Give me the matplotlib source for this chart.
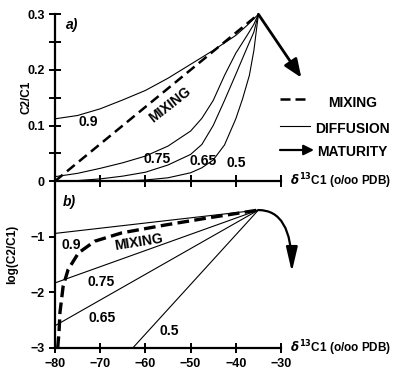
import matplotlib
matplotlib.use("Agg")
import matplotlib.pyplot as plt
from matplotlib.patches import FancyArrowPatch
import numpy as np

plt.rcParams["font.family"] = ["Liberation Sans", "DejaVu Sans"]
plt.rcParams["font.weight"] = "bold"

# --- data ---
# a) C2/C1 vs d13C1 (diffusion curves labelled by their factor)
x_09 = [-80, -75, -70, -65, -60, -55, -50, -45, -40, -37.5, -35]
diff_09 = [0.112, 0.118, 0.130, 0.146, 0.163, 0.185, 0.210, 0.235, 0.262, 0.280, 0.300]
x_075 = [-80, -75, -70, -65, -60, -55, -50, -47.5, -45, -42.5, -40, -37.5, -36, -35]
diff_075 = [0.008, 0.014, 0.023, 0.033, 0.045, 0.063, 0.090, 0.113, 0.145, 0.190, 0.230,
            0.262, 0.282, 0.300]
x_065 = [-80, -75, -70, -65, -60, -55, -50, -47.5, -45, -42.5, -40, -37.5, -36, -35]
diff_065 = [0.000, 0.001, 0.004, 0.009, 0.016, 0.029, 0.048, 0.066, 0.100, 0.145, 0.192,
            0.240, 0.268, 0.300]
x_05 = [-66, -60, -55, -50, -47.5, -45, -42.5, -40, -38.5, -37, -36, -35]
diff_05 = [0.000, 0.002, 0.006, 0.015, 0.024, 0.038, 0.065, 0.112, 0.148, 0.190, 0.235, 0.300]
mix_x_top = [-80, -35]
mix_y_top = [0.0, 0.3]

# b) log(C2/C1) vs d13C1
diff_x_bot = {"0.9": [-80, -35], "0.75": [-80, -35], "0.65": [-80, -35], "0.5": [-62.8, -35]}
diff_y_bot = {"0.9": [-0.94, -0.52], "0.75": [-1.83, -0.52], "0.65": [-2.60, -0.52], "0.5": [-3.0, -0.52]}
mix_x_bot = [-79.4, -79.1, -78.9, -78.2, -77.1, -74.8, -71.2, -65.2, -55.7, -46.8, -35.0]
mix_y_bot = [-3.0, -2.7, -2.36, -1.89, -1.59, -1.29, -1.08, -0.93, -0.79, -0.67, -0.52]

end_pt = (-35, 0.3)
end_log = (-35, -0.52)

fig = plt.figure(figsize=(4.0, 3.75), dpi=100)
ax1 = fig.add_axes([0.1375, 0.517, 0.565, 0.445])
ax2 = fig.add_axes([0.1375, 0.072, 0.565, 0.445])

lw_thin = 0.8
for ax in (ax1, ax2):
    ax.set_xlim(-80, -30)
    for s in ("top", "right"):
        ax.spines[s].set_visible(False)
    for s in ("left", "bottom"):
        ax.spines[s].set_linewidth(1.6)
    ax.set_facecolor("none")

# ---- panel a ----
ax1.set_ylim(0, 0.3)
ax1.plot(x_09, diff_09, color="black", lw=lw_thin, clip_on=False)
ax1.plot(x_075, diff_075, color="black", lw=lw_thin, clip_on=False)
ax1.plot(x_065, diff_065, color="black", lw=lw_thin, clip_on=False)
ax1.plot(x_05, diff_05, color="black", lw=lw_thin, clip_on=False)
ax1.plot(mix_x_top, mix_y_top, color="black", lw=1.8, dashes=(4, 2.2), clip_on=False)
ax1.annotate("", xy=(-25.5, 0.186), xytext=end_pt, annotation_clip=False,
             arrowprops=dict(arrowstyle="-|>,head_length=1.1,head_width=0.45",
                             color="black", lw=2.0, shrinkA=0, shrinkB=0))

ax1.set_xticks(np.arange(-80, -29, 10))
ax1.set_xticklabels([])
ax1.set_yticks([0, 0.1, 0.2, 0.3])
ax1.set_yticklabels(["0", "0.1", "0.2", "0.3"])
ax1.set_yticks([0.05, 0.15, 0.25], minor=True)
ax1.tick_params(axis="both", which="both", direction="inout", length=8, width=1.4,
                labelsize=9)
ax1.set_ylabel("C2/C1", fontsize=8.5, fontweight="bold")
ax1.yaxis.set_label_coords(-0.1, 0.5)

ax1.text(-77.5, 0.274, "a)", fontsize=10, fontweight="bold", style="italic")
ax1.text(-72.7, 0.106, "0.9", fontsize=10, ha="center", va="center")
ax1.text(-57.4, 0.040, "0.75", fontsize=10, ha="center", va="center")
ax1.text(-47.3, 0.036, "0.65", fontsize=10, ha="center", va="center")
ax1.text(-40.0, 0.032, "0.5", fontsize=10, ha="center", va="center")
ax1.text(-54.5, 0.137, "MIXING", fontsize=10, ha="center", va="center", rotation=38)
ax1.text(-28, 0.0, r"$\delta^{13}$C1 (o/oo PDB)", fontsize=8.5, ha="left", va="center",
         clip_on=False)

# ---- panel b ----
ax2.set_ylim(-3, 0)
for k in diff_x_bot:
    ax2.plot(diff_x_bot[k], diff_y_bot[k], color="black", lw=lw_thin, clip_on=False)
ax2.plot(mix_x_bot, mix_y_bot, color="black", lw=2.4, dashes=(3.5, 1.6), clip_on=False)
ax2.annotate("", xy=(-27.6, -1.63), xytext=end_log, annotation_clip=False,
             arrowprops=dict(arrowstyle="-|>,head_length=1.5,head_width=0.35",
                             color="black", lw=1.6, shrinkA=0, shrinkB=0,
                             connectionstyle="angle3,angleA=0,angleB=90"))

ax2.set_xticks(np.arange(-80, -29, 10))
ax2.set_yticks([-3, -2, -1])
ax2.tick_params(axis="x", direction="inout", length=7, width=1.4, labelsize=9)
ax2.tick_params(axis="y", direction="out", length=4, width=1.4, labelsize=9)
ax2.set_ylabel("log(C2/C1)", fontsize=8.5, fontweight="bold")
ax2.yaxis.set_label_coords(-0.165, 0.56)

ax2.text(-78.2, -0.44, "b)", fontsize=10, fontweight="bold", style="italic")
ax2.text(-76.5, -1.14, "0.9", fontsize=10, ha="center", va="center")
ax2.text(-69.8, -1.82, "0.75", fontsize=10, ha="center", va="center")
ax2.text(-69.6, -2.46, "0.65", fontsize=10, ha="center", va="center")
ax2.text(-54.8, -2.70, "0.5", fontsize=10, ha="center", va="center")
ax2.text(-61.4, -1.10, "MIXING", fontsize=10, ha="center", va="center", rotation=9)
ax2.text(-28, -3.0, r"$\delta^{13}$C1 (o/oo PDB)", fontsize=8.5, ha="left", va="center",
         clip_on=False)

# ---- legend (drawn by hand) ----
fig.lines.append(plt.Line2D([0.70, 0.775], [0.735, 0.735], transform=fig.transFigure,
                            color="black", lw=1.8, dashes=(4, 2)))
fig.lines.append(plt.Line2D([0.70, 0.775], [0.663, 0.663], transform=fig.transFigure,
                            color="black", lw=lw_thin))
fig.text(0.882, 0.725, "MIXING", fontsize=10, ha="center", va="center")
fig.text(0.882, 0.656, "DIFFUSION", fontsize=10, ha="center", va="center")
fig.text(0.882, 0.594, "MATURITY", fontsize=10, ha="center", va="center")
fig.patches.append(FancyArrowPatch(
    (0.70, 0.60), (0.785, 0.60), transform=fig.transFigure, color="black", lw=1.6,
    arrowstyle="-|>,head_length=6,head_width=3", shrinkA=0, shrinkB=0))

fig.savefig("out.png", dpi=100)
